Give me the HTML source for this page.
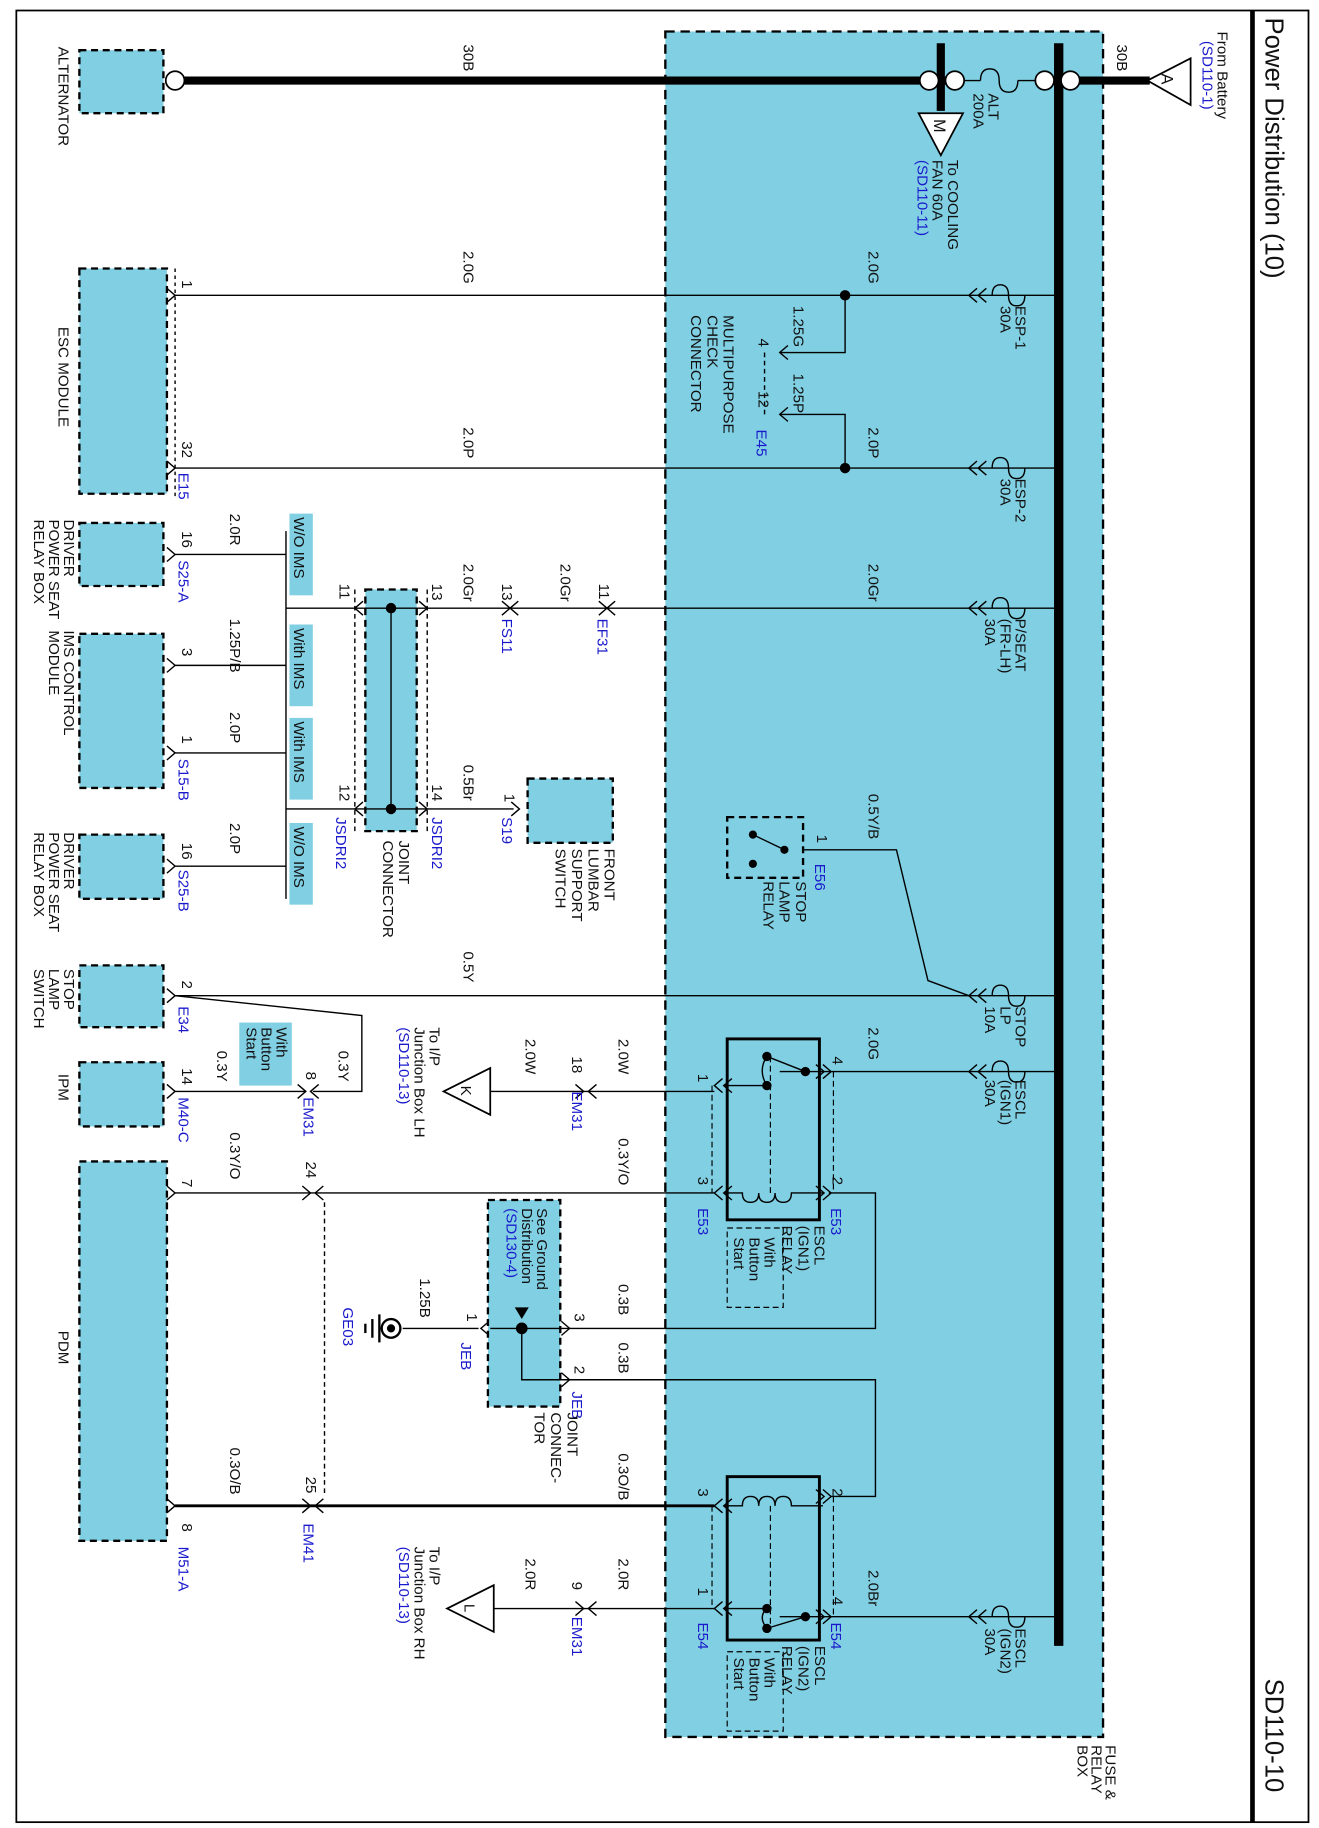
<!DOCTYPE html>
<html><head><meta charset="utf-8"><style>
html,body{margin:0;padding:0;background:#fff}
svg{display:block}
text{font-family:"Liberation Sans",sans-serif;font-size:13px;fill:#111}
.b{fill:#1a1acc}
.t{font-size:22px}
.m{font-size:14px}
</style></head><body>
<svg width="1319" height="1828" viewBox="0 0 1130 1566" preserveAspectRatio="none" xmlns="http://www.w3.org/2000/svg">
<defs>
<path id="cv" d="M-7,-6 L0,0 L-7,6" fill="none" stroke="#000" stroke-width="1.2"/>
<path id="cl" d="M7,-6 L0,0 L7,6" fill="none" stroke="#000" stroke-width="1.2"/>
</defs>
<rect x="0" y="0" width="1130" height="1566" fill="#fff"/>
<rect x="14" y="9" width="1107" height="1552" fill="none" stroke="#000" stroke-width="1.5"/>
<line x1="1073" y1="9" x2="1073" y2="1561" stroke="#000" stroke-width="4"/>
<rect x="570" y="27" width="375" height="1461" fill="#80cfe3" stroke="#000" stroke-width="2" stroke-dasharray="8,5"/>
<line x1="907" y1="37" x2="907" y2="1410" stroke="#000" stroke-width="8"/>
<line x1="158" y1="69" x2="985" y2="69" stroke="#000" stroke-width="7"/>
<circle cx="150" cy="69" r="8" fill="#fff" stroke="#000" stroke-width="1.5"/>
<line x1="806" y1="37" x2="806" y2="95" stroke="#000" stroke-width="7"/>
<rect x="822" y="62" width="70" height="14" fill="#80cfe3"/>
<line x1="822" y1="69" x2="840" y2="69" stroke="#000" stroke-width="1.2"/>
<path d="M840,69 q0,-10 8,-10 q8,0 8,10 q0,10 8,10 q8,0 8,-10" fill="none" stroke="#000" stroke-width="1.2"/>
<line x1="872" y1="69" x2="892" y2="69" stroke="#000" stroke-width="1.2"/>
<circle cx="796" cy="69" r="8" fill="#fff" stroke="#000" stroke-width="1.5"/>
<circle cx="818" cy="69" r="8" fill="#fff" stroke="#000" stroke-width="1.5"/>
<circle cx="895" cy="69" r="8" fill="#fff" stroke="#000" stroke-width="1.5"/>
<circle cx="917" cy="69" r="8" fill="#fff" stroke="#000" stroke-width="1.5"/>
<polygon points="983,69 1020,50 1020,90" fill="#fff" stroke="#000" stroke-width="1.5"/>
<text class="m" transform="rotate(90 995 63)" x="995" y="63">A</text>
<polygon points="806,133 787,97 825,97" fill="#fff" stroke="#000" stroke-width="1.5"/>
<text class="m" transform="rotate(90 800 102)" x="800" y="102">M</text>
<rect x="68" y="43" width="72" height="54" fill="#80cfe3" stroke="#000" stroke-width="2" stroke-dasharray="6,4"/>
<rect x="68" y="230" width="75" height="193" fill="#80cfe3" stroke="#000" stroke-width="2" stroke-dasharray="6,4"/>
<g stroke="#000" stroke-width="1.2" fill="none">
<line x1="150" y1="253" x2="905" y2="253"/>
<line x1="150" y1="401" x2="905" y2="401"/>
<line x1="366" y1="521" x2="905" y2="521"/>
<line x1="150" y1="853" x2="905" y2="853"/>
<line x1="705" y1="918" x2="905" y2="918"/>
<line x1="705" y1="1385" x2="905" y2="1385"/>
<line x1="150" y1="425" x2="150" y2="230" stroke-dasharray="3,3"/>
<polyline points="724,253 724,302 668,302"/>
<polyline points="724,401 724,355 668,355"/>
<line x1="655" y1="302" x2="655" y2="355" stroke-dasharray="4,3"/>
<line x1="245" y1="521" x2="304" y2="521"/>
<line x1="245" y1="693" x2="304" y2="693"/>
<line x1="245" y1="455" x2="245" y2="770"/>
<line x1="150" y1="475" x2="245" y2="475"/>
<line x1="150" y1="570" x2="245" y2="570"/>
<line x1="150" y1="645" x2="245" y2="645"/>
<line x1="150" y1="742" x2="245" y2="742"/>
<line x1="366" y1="693" x2="440" y2="693"/>
<polyline points="688,728 768,728 795,840 830,853"/>
<polyline points="150,853 310,870 310,935 268,935"/>
<line x1="150" y1="935" x2="262" y2="935"/>
<line x1="420" y1="935" x2="612" y2="935"/>
<line x1="150" y1="1022" x2="612" y2="1022"/>
<polyline points="710,1022 750,1022 750,1138 488,1138"/>
<polyline points="488,1182 750,1182 750,1282 712,1282"/>
<line x1="150" y1="1290" x2="612" y2="1290" stroke-width="2.5"/>
<line x1="423" y1="1378" x2="612" y2="1378"/>
<line x1="278" y1="1030" x2="278" y2="1280" stroke-dasharray="4,3"/>
<line x1="345" y1="1138" x2="410" y2="1138"/>
</g>
<g fill="none" stroke="#000" stroke-width="1.2">
<path d="M850,253 q0,-9 7,-9 q7,0 7,9 q0,9 7,9 q7,0 7,-9"/>
<path d="M850,401 q0,-9 7,-9 q7,0 7,9 q0,9 7,9 q7,0 7,-9"/>
<path d="M850,521 q0,-9 7,-9 q7,0 7,9 q0,9 7,9 q7,0 7,-9"/>
<path d="M850,853 q0,-9 7,-9 q7,0 7,9 q0,9 7,9 q7,0 7,-9"/>
<path d="M850,918 q0,-9 7,-9 q7,0 7,9 q0,9 7,9 q7,0 7,-9"/>
<path d="M850,1385 q0,-9 7,-9 q7,0 7,9 q0,9 7,9 q7,0 7,-9"/>
</g>
<g>
<use href="#cl" x="830" y="253"/><use href="#cl" x="838" y="253"/>
<use href="#cl" x="830" y="401"/><use href="#cl" x="838" y="401"/>
<use href="#cl" x="830" y="521"/><use href="#cl" x="838" y="521"/>
<use href="#cl" x="830" y="853"/><use href="#cl" x="838" y="853"/>
<use href="#cl" x="830" y="918"/><use href="#cl" x="838" y="918"/>
<use href="#cl" x="830" y="1385"/><use href="#cl" x="838" y="1385"/>
<use href="#cv" x="150" y="253"/><use href="#cv" x="150" y="401"/>
<use href="#cv" x="150" y="475"/><use href="#cv" x="150" y="570"/>
<use href="#cv" x="150" y="645"/><use href="#cv" x="150" y="742"/>
<use href="#cv" x="150" y="853"/><use href="#cv" x="150" y="935"/>
<use href="#cv" x="150" y="1022"/><use href="#cv" x="150" y="1290"/>
<use href="#cl" x="668" y="302"/><use href="#cl" x="668" y="355"/>
<use href="#cv" x="520" y="521"/><use href="#cl" x="520" y="521"/>
<use href="#cv" x="437" y="521"/><use href="#cl" x="437" y="521"/>
<use href="#cv" x="445" y="693"/>
<use href="#cv" x="262" y="935"/><use href="#cl" x="266" y="935"/>
<use href="#cv" x="500" y="935"/><use href="#cl" x="504" y="935"/>
<use href="#cv" x="266" y="1022"/><use href="#cl" x="270" y="1022"/>
<use href="#cv" x="266" y="1290"/><use href="#cl" x="270" y="1290"/>
<use href="#cv" x="500" y="1378"/><use href="#cl" x="504" y="1378"/>
<use href="#cl" x="412" y="1138"/>
<use href="#cv" x="488" y="1138"/><use href="#cv" x="488" y="1182"/>
<use href="#cl" x="612" y="930"/><use href="#cl" x="620" y="930"/>
<use href="#cl" x="612" y="1022"/><use href="#cl" x="620" y="1022"/>
<use href="#cv" x="706" y="918"/><use href="#cv" x="712" y="918"/>
<use href="#cv" x="706" y="1022"/><use href="#cv" x="712" y="1022"/>
<use href="#cl" x="612" y="1290"/><use href="#cl" x="620" y="1290"/>
<use href="#cl" x="612" y="1378"/><use href="#cl" x="620" y="1378"/>
<use href="#cv" x="706" y="1282"/><use href="#cv" x="712" y="1282"/>
<use href="#cv" x="706" y="1385"/><use href="#cv" x="712" y="1385"/>
</g>
<circle cx="724" cy="253" r="4.5" fill="#000"/>
<circle cx="724" cy="401" r="4.5" fill="#000"/>
<g fill="#80cfe3" stroke="#000" stroke-width="2" stroke-dasharray="6,4">
<rect x="68" y="448" width="72" height="54"/>
<rect x="68" y="543" width="72" height="132"/>
<rect x="68" y="715" width="72" height="55"/>
<rect x="68" y="827" width="72" height="53"/>
<rect x="68" y="910" width="72" height="55"/>
<rect x="68" y="995" width="75" height="325"/>
<rect x="313" y="505" width="44" height="207"/>
<rect x="452" y="667" width="73" height="55"/>
<rect x="418" y="1028" width="62" height="177"/>
<rect x="623" y="700" width="65" height="52"/>
</g>
<g stroke="#000" stroke-width="1.2" fill="none">
<line x1="304" y1="521" x2="366" y2="521"/>
<line x1="304" y1="693" x2="366" y2="693"/>
<line x1="335" y1="521" x2="335" y2="693"/>
<line x1="304" y1="505" x2="304" y2="712" stroke-dasharray="4,3"/>
<line x1="366" y1="505" x2="366" y2="712" stroke-dasharray="4,3"/>
<polyline points="420,1138 488,1138"/>
<polyline points="447,1138 447,1182 488,1182"/>
</g>
<circle cx="335" cy="521" r="4.5"/><circle cx="335" cy="693" r="4.5"/>
<circle cx="447" cy="1138" r="5"/>
<polygon points="447,1130 441,1120 453,1120" fill="#000"/>
<use href="#cl" x="304" y="521"/><use href="#cv" x="366" y="521"/>
<use href="#cl" x="304" y="693"/><use href="#cv" x="366" y="693"/>
<circle cx="645" cy="715" r="3.5"/><circle cx="645" cy="740" r="3.5"/><circle cx="672" cy="728" r="3.5"/>
<line x1="645" y1="715" x2="672" y2="728" stroke="#000" stroke-width="1.2"/>
<g fill="none" stroke="#000">
<rect x="623" y="890" width="79" height="155" stroke-width="2.5"/>
<rect x="623" y="1265" width="79" height="140" stroke-width="2.5"/>
<path d="M621,930 H657 M668,918 H705 M657,905 L690,918 M657,905 q-8,12 0,25" stroke-width="1.2"/>
<path d="M660,905 V1022" stroke-dasharray="5,3" stroke-width="1"/>
<path d="M621,1022 H636 q0,8 7,8 q7,0 7,-8 q0,8 7,8 q7,0 7,-8 q0,8 7,8 q7,0 7,-8 H705" stroke-width="1.2"/>
<path d="M610,930 V1022 M714,918 V1022" stroke-dasharray="5,3" stroke-width="1"/>
<path d="M621,1290 H636 q0,-8 7,-8 q7,0 7,8 q0,-8 7,-8 q7,0 7,8 q0,-8 7,-8 q7,0 7,8 H705" stroke-width="1.2"/>
<path d="M660,1290 V1395" stroke-dasharray="5,3" stroke-width="1"/>
<path d="M621,1378 H657 M668,1385 H705 M657,1395 L690,1385 M657,1395 q-8,-10 0,-17" stroke-width="1.2"/>
<path d="M610,1290 V1378 M714,1282 V1385" stroke-dasharray="5,3" stroke-width="1"/>
<rect x="623" y="1052" width="48" height="68" stroke-dasharray="5,3" stroke-width="1"/>
<rect x="623" y="1415" width="48" height="68" stroke-dasharray="5,3" stroke-width="1"/>
</g>
<circle cx="657" cy="905" r="4"/><circle cx="657" cy="930" r="4"/><circle cx="690" cy="918" r="4"/>
<circle cx="657" cy="1395" r="4"/><circle cx="657" cy="1378" r="4"/><circle cx="690" cy="1385" r="4"/>
<polygon points="380,935 420,915 420,955" fill="#fff" stroke="#000" stroke-width="1.5"/>
<text transform="rotate(90 395 930)" x="395" y="930">K</text>
<polygon points="383,1378 423,1358 423,1398" fill="#fff" stroke="#000" stroke-width="1.5"/>
<text transform="rotate(90 398 1374)" x="398" y="1374">L</text>
<circle cx="335" cy="1138" r="8" fill="#fff" stroke="#000" stroke-width="2"/>
<circle cx="335" cy="1138" r="3.5"/>
<g stroke="#000" stroke-width="2"><line x1="325" y1="1126" x2="325" y2="1150"/><line x1="319" y1="1130" x2="319" y2="1146"/><line x1="313" y1="1134" x2="313" y2="1142"/></g>
<g fill="#80cfe3"><rect x="248" y="440" width="20" height="70"/><rect x="248" y="535" width="20" height="70"/><rect x="248" y="615" width="20" height="70"/><rect x="248" y="705" width="20" height="70"/><rect x="205" y="876" width="45" height="54"/></g>
<g>
<text transform="rotate(90 252 443)" x="252" y="443">W/O IMS</text>
<text transform="rotate(90 252 538)" x="252" y="538">With IMS</text>
<text transform="rotate(90 252 618)" x="252" y="618">With IMS</text>
<text transform="rotate(90 252 708)" x="252" y="708">W/O IMS</text>
<text transform="rotate(90 237 880)" x="237" y="880">With</text>
<text transform="rotate(90 224 880)" x="224" y="880">Button</text>
<text transform="rotate(90 211 880)" x="211" y="880">Start</text>
</g>
<g>
<text class="t" transform="rotate(90 1084 15)" x="1084" y="15">Power Distribution (10)</text>
<text class="t" transform="rotate(90 1084 1438)" x="1084" y="1438">SD110-10</text>
<text transform="rotate(90 1043 27)" x="1043" y="27">From Battery</text>
<text class="b" transform="rotate(90 1030 35)" x="1030" y="35">(SD110-1)</text>
<text transform="rotate(90 957 38)" x="957" y="38">30B</text>
<text transform="rotate(90 397 38)" x="397" y="38">30B</text>
<text transform="rotate(90 847 80)" x="847" y="80">ALT</text>
<text transform="rotate(90 834 80)" x="834" y="80">200A</text>
<text transform="rotate(90 812 137)" x="812" y="137">To COOLING</text>
<text transform="rotate(90 799 137)" x="799" y="137">FAN 60A</text>
<text class="b" transform="rotate(90 786 137)" x="786" y="137">(SD110-11)</text>
<text transform="rotate(90 50 40)" x="50" y="40">ALTERNATOR</text>
<text transform="rotate(90 50 280)" x="50" y="280">ESC MODULE</text>
<text transform="rotate(90 156 240)" x="156" y="240">1</text>
<text transform="rotate(90 156 378)" x="156" y="378">32</text>
<text class="b" transform="rotate(90 153 405)" x="153" y="405">E15</text>
<text transform="rotate(90 397 215)" x="397" y="215">2.0G</text>
<text transform="rotate(90 397 366)" x="397" y="366">2.0P</text>
<text transform="rotate(90 744 215)" x="744" y="215">2.0G</text>
<text transform="rotate(90 744 366)" x="744" y="366">2.0P</text>
<text transform="rotate(90 680 262)" x="680" y="262">1.25G</text>
<text transform="rotate(90 680 320)" x="680" y="320">1.25P</text>
<text transform="rotate(90 650 290)" x="650" y="290">4</text>
<text transform="rotate(90 650 335)" x="650" y="335">12</text>
<text class="b" transform="rotate(90 648 368)" x="648" y="368">E45</text>
<text transform="rotate(90 620 270)" x="620" y="270">MULTIPURPOSE</text>
<text transform="rotate(90 606 270)" x="606" y="270">CHECK</text>
<text transform="rotate(90 592 270)" x="592" y="270">CONNECTOR</text>
<text transform="rotate(90 870 262)" x="870" y="262">ESP-1</text>
<text transform="rotate(90 857 262)" x="857" y="262">30A</text>
<text transform="rotate(90 870 410)" x="870" y="410">ESP-2</text>
<text transform="rotate(90 857 410)" x="857" y="410">30A</text>
<text transform="rotate(90 870 530)" x="870" y="530">P/SEAT</text>
<text transform="rotate(90 857 530)" x="857" y="530">(FR-LH)</text>
<text transform="rotate(90 844 530)" x="844" y="530">30A</text>
<text transform="rotate(90 744 483)" x="744" y="483">2.0Gr</text>
<text transform="rotate(90 480 483)" x="480" y="483">2.0Gr</text>
<text transform="rotate(90 397 483)" x="397" y="483">2.0Gr</text>
<text transform="rotate(90 513 500)" x="513" y="500">11</text>
<text class="b" transform="rotate(90 512 530)" x="512" y="530">EF31</text>
<text transform="rotate(90 430 500)" x="430" y="500">13</text>
<text class="b" transform="rotate(90 430 530)" x="430" y="530">FS11</text>
<text transform="rotate(90 370 500)" x="370" y="500">13</text>
<text transform="rotate(90 291 500)" x="291" y="500">11</text>
<text transform="rotate(90 291 672)" x="291" y="672">12</text>
<text transform="rotate(90 370 672)" x="370" y="672">14</text>
<text class="b" transform="rotate(90 288 700)" x="288" y="700">JSDRI2</text>
<text class="b" transform="rotate(90 370 700)" x="370" y="700">JSDRI2</text>
<text transform="rotate(90 342 720)" x="342" y="720">JOINT</text>
<text transform="rotate(90 328 720)" x="328" y="720">CONNECTOR</text>
<text transform="rotate(90 397 655)" x="397" y="655">0.5Br</text>
<text transform="rotate(90 432 680)" x="432" y="680">1</text>
<text class="b" transform="rotate(90 430 700)" x="430" y="700">S19</text>
<text transform="rotate(90 518 727)" x="518" y="727">FRONT</text>
<text transform="rotate(90 504 727)" x="504" y="727">LUMBAR</text>
<text transform="rotate(90 490 727)" x="490" y="727">SUPPORT</text>
<text transform="rotate(90 476 727)" x="476" y="727">SWITCH</text>
<text transform="rotate(90 55 445)" x="55" y="445">DRIVER</text>
<text transform="rotate(90 42 445)" x="42" y="445">POWER SEAT</text>
<text transform="rotate(90 29 445)" x="29" y="445">RELAY BOX</text>
<text transform="rotate(90 55 540)" x="55" y="540">IMS CONTROL</text>
<text transform="rotate(90 42 540)" x="42" y="540">MODULE</text>
<text transform="rotate(90 55 713)" x="55" y="713">DRIVER</text>
<text transform="rotate(90 42 713)" x="42" y="713">POWER SEAT</text>
<text transform="rotate(90 29 713)" x="29" y="713">RELAY BOX</text>
<text transform="rotate(90 197 440)" x="197" y="440">2.0R</text>
<text transform="rotate(90 197 530)" x="197" y="530">1.25P/B</text>
<text transform="rotate(90 197 610)" x="197" y="610">2.0P</text>
<text transform="rotate(90 197 705)" x="197" y="705">2.0P</text>
<text transform="rotate(90 156 455)" x="156" y="455">16</text>
<text class="b" transform="rotate(90 153 480)" x="153" y="480">S25-A</text>
<text transform="rotate(90 156 555)" x="156" y="555">3</text>
<text transform="rotate(90 156 630)" x="156" y="630">1</text>
<text class="b" transform="rotate(90 153 650)" x="153" y="650">S15-B</text>
<text transform="rotate(90 156 722)" x="156" y="722">16</text>
<text class="b" transform="rotate(90 153 745)" x="153" y="745">S25-B</text>
<text transform="rotate(90 744 680)" x="744" y="680">0.5Y/B</text>
<text transform="rotate(90 700 715)" x="700" y="715">1</text>
<text class="b" transform="rotate(90 698 740)" x="698" y="740">E56</text>
<text transform="rotate(90 682 755)" x="682" y="755">STOP</text>
<text transform="rotate(90 668 755)" x="668" y="755">LAMP</text>
<text transform="rotate(90 654 755)" x="654" y="755">RELAY</text>
<text transform="rotate(90 397 815)" x="397" y="815">0.5Y</text>
<text transform="rotate(90 870 862)" x="870" y="862">STOP</text>
<text transform="rotate(90 857 862)" x="857" y="862">LP</text>
<text transform="rotate(90 844 862)" x="844" y="862">10A</text>
<text transform="rotate(90 156 840)" x="156" y="840">2</text>
<text class="b" transform="rotate(90 153 862)" x="153" y="862">E34</text>
<text transform="rotate(90 55 830)" x="55" y="830">STOP</text>
<text transform="rotate(90 42 830)" x="42" y="830">LAMP</text>
<text transform="rotate(90 29 830)" x="29" y="830">SWITCH</text>
<text transform="rotate(90 290 900)" x="290" y="900">0.3Y</text>
<text transform="rotate(90 186 900)" x="186" y="900">0.3Y</text>
<text transform="rotate(90 50 920)" x="50" y="920">IPM</text>
<text transform="rotate(90 156 915)" x="156" y="915">14</text>
<text class="b" transform="rotate(90 153 940)" x="153" y="940">M40-C</text>
<text transform="rotate(90 262 918)" x="262" y="918">8</text>
<text class="b" transform="rotate(90 260 940)" x="260" y="940">EM31</text>
<text transform="rotate(90 368 880)" x="368" y="880">To I/P</text>
<text transform="rotate(90 355 880)" x="355" y="880">Junction Box LH</text>
<text class="b" transform="rotate(90 342 880)" x="342" y="880">(SD110-13)</text>
<text transform="rotate(90 450 890)" x="450" y="890">2.0W</text>
<text transform="rotate(90 530 890)" x="530" y="890">2.0W</text>
<text transform="rotate(90 490 905)" x="490" y="905">18</text>
<text class="b" transform="rotate(90 490 935)" x="490" y="935">EM31</text>
<text transform="rotate(90 744 880)" x="744" y="880">2.0G</text>
<text transform="rotate(90 713 905)" x="713" y="905">4</text>
<text transform="rotate(90 713 1008)" x="713" y="1008">2</text>
<text class="b" transform="rotate(90 712 1035)" x="712" y="1035">E53</text>
<text transform="rotate(90 598 920)" x="598" y="920">1</text>
<text transform="rotate(90 598 1008)" x="598" y="1008">3</text>
<text class="b" transform="rotate(90 598 1035)" x="598" y="1035">E53</text>
<text transform="rotate(90 698 1050)" x="698" y="1050">ESCL</text>
<text transform="rotate(90 684 1050)" x="684" y="1050">(IGN1)</text>
<text transform="rotate(90 670 1050)" x="670" y="1050">RELAY</text>
<text transform="rotate(90 655 1060)" x="655" y="1060">With</text>
<text transform="rotate(90 642 1060)" x="642" y="1060">Button</text>
<text transform="rotate(90 629 1060)" x="629" y="1060">Start</text>
<text transform="rotate(90 870 925)" x="870" y="925">ESCL</text>
<text transform="rotate(90 857 925)" x="857" y="925">(IGN1)</text>
<text transform="rotate(90 844 925)" x="844" y="925">30A</text>
<text transform="rotate(90 530 975)" x="530" y="975">0.3Y/O</text>
<text transform="rotate(90 197 970)" x="197" y="970">0.3Y/O</text>
<text transform="rotate(90 262 995)" x="262" y="995">24</text>
<text transform="rotate(90 156 1010)" x="156" y="1010">7</text>
<text transform="rotate(90 50 1140)" x="50" y="1140">PDM</text>
<text transform="rotate(90 460 1035)" x="460" y="1035">See Ground</text>
<text transform="rotate(90 447 1035)" x="447" y="1035">Distribution</text>
<text class="b" transform="rotate(90 434 1035)" x="434" y="1035">(SD130-4)</text>
<text transform="rotate(90 530 1100)" x="530" y="1100">0.3B</text>
<text transform="rotate(90 530 1150)" x="530" y="1150">0.3B</text>
<text transform="rotate(90 492 1125)" x="492" y="1125">3</text>
<text transform="rotate(90 492 1170)" x="492" y="1170">2</text>
<text class="b" transform="rotate(90 490 1192)" x="490" y="1192">JEB</text>
<text transform="rotate(90 360 1095)" x="360" y="1095">1.25B</text>
<text transform="rotate(90 400 1125)" x="400" y="1125">1</text>
<text class="b" transform="rotate(90 395 1150)" x="395" y="1150">JEB</text>
<text class="b" transform="rotate(90 294 1120)" x="294" y="1120">GE03</text>
<text transform="rotate(90 486 1210)" x="486" y="1210">JOINT</text>
<text transform="rotate(90 472 1210)" x="472" y="1210">CONNEC-</text>
<text transform="rotate(90 458 1210)" x="458" y="1210">TOR</text>
<text transform="rotate(90 530 1245)" x="530" y="1245">0.3O/B</text>
<text transform="rotate(90 197 1240)" x="197" y="1240">0.3O/B</text>
<text transform="rotate(90 156 1305)" x="156" y="1305">8</text>
<text class="b" transform="rotate(90 153 1325)" x="153" y="1325">M51-A</text>
<text transform="rotate(90 262 1265)" x="262" y="1265">25</text>
<text class="b" transform="rotate(90 260 1305)" x="260" y="1305">EM41</text>
<text transform="rotate(90 713 1275)" x="713" y="1275">2</text>
<text transform="rotate(90 598 1275)" x="598" y="1275">3</text>
<text transform="rotate(90 368 1325)" x="368" y="1325">To I/P</text>
<text transform="rotate(90 355 1325)" x="355" y="1325">Junction Box RH</text>
<text class="b" transform="rotate(90 342 1325)" x="342" y="1325">(SD110-13)</text>
<text transform="rotate(90 450 1335)" x="450" y="1335">2.0R</text>
<text transform="rotate(90 530 1335)" x="530" y="1335">2.0R</text>
<text transform="rotate(90 490 1355)" x="490" y="1355">9</text>
<text class="b" transform="rotate(90 490 1385)" x="490" y="1385">EM31</text>
<text transform="rotate(90 744 1345)" x="744" y="1345">2.0Br</text>
<text transform="rotate(90 713 1368)" x="713" y="1368">4</text>
<text class="b" transform="rotate(90 712 1390)" x="712" y="1390">E54</text>
<text transform="rotate(90 598 1360)" x="598" y="1360">1</text>
<text class="b" transform="rotate(90 598 1390)" x="598" y="1390">E54</text>
<text transform="rotate(90 698 1410)" x="698" y="1410">ESCL</text>
<text transform="rotate(90 684 1410)" x="684" y="1410">(IGN2)</text>
<text transform="rotate(90 670 1410)" x="670" y="1410">RELAY</text>
<text transform="rotate(90 655 1420)" x="655" y="1420">With</text>
<text transform="rotate(90 642 1420)" x="642" y="1420">Button</text>
<text transform="rotate(90 629 1420)" x="629" y="1420">Start</text>
<text transform="rotate(90 870 1395)" x="870" y="1395">ESCL</text>
<text transform="rotate(90 857 1395)" x="857" y="1395">(IGN2)</text>
<text transform="rotate(90 844 1395)" x="844" y="1395">30A</text>
<text transform="rotate(90 947 1495)" x="947" y="1495">FUSE &amp;</text>
<text transform="rotate(90 935 1495)" x="935" y="1495">RELAY</text>
<text transform="rotate(90 923 1495)" x="923" y="1495">BOX</text>
</g>
</svg>
</body></html>
